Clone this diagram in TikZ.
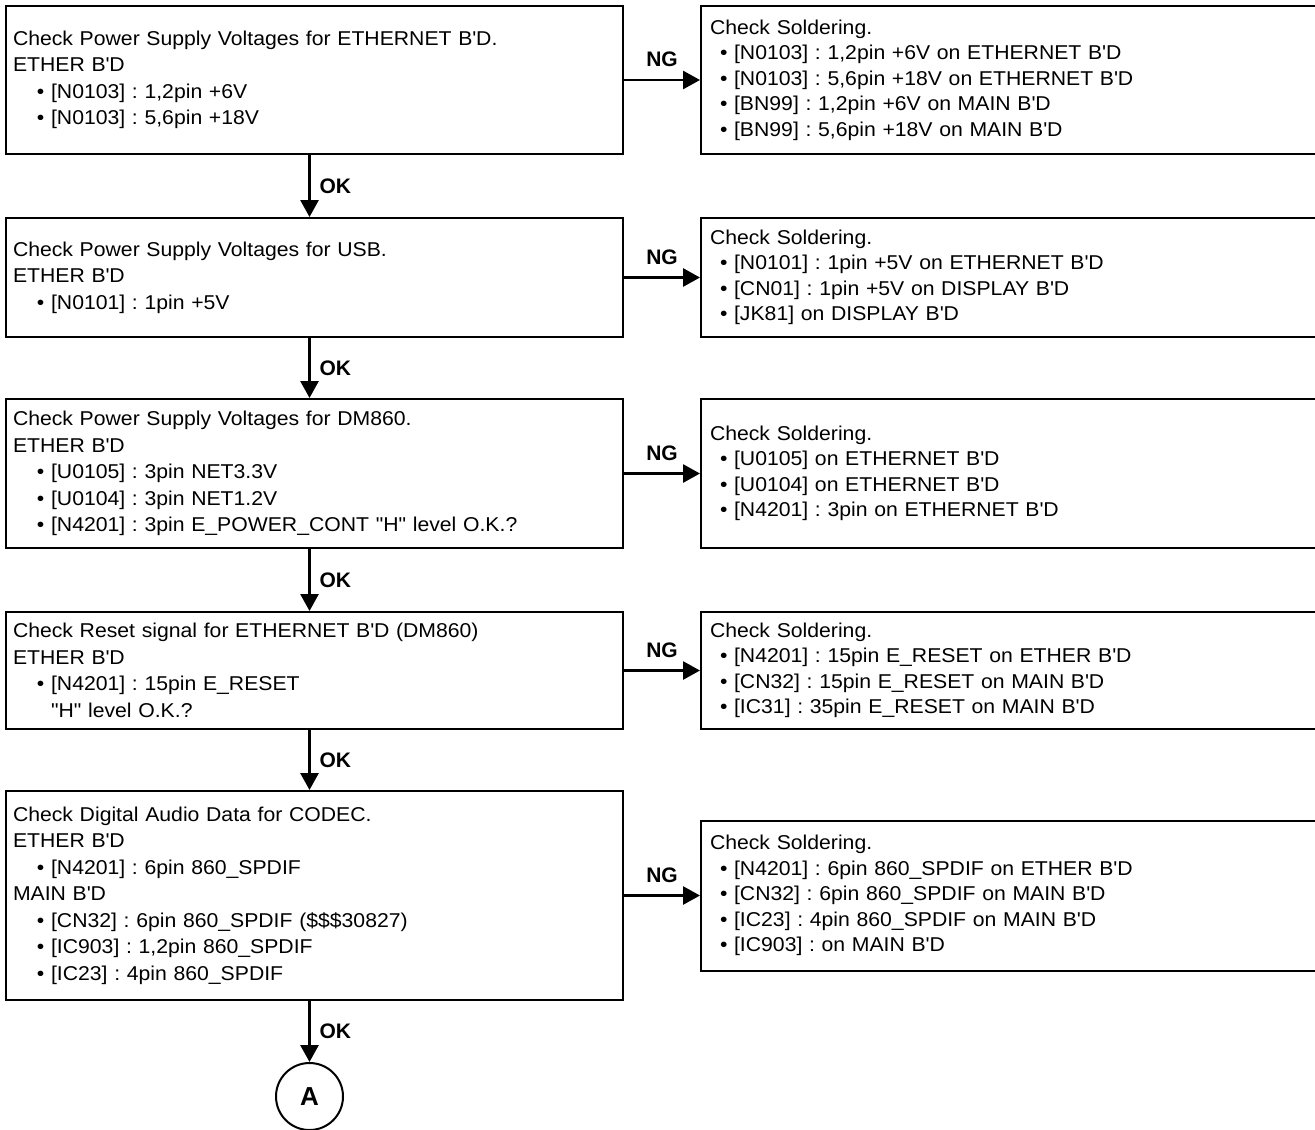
\documentclass[tikz,border=0pt]{standalone}
\usepackage{fontspec}
\setmainfont{Liberation Sans}
\newfontfamily\bodyfont{Liberation Sans}[FakeStretch=1.06]
\usetikzlibrary{arrows.meta,positioning}

\newcommand\BD{B\textquotesingle D}
\newcommand\itm{\hspace*{12pt}\textbullet\ }
\newcommand\ritm{\hspace*{5pt}\textbullet\ }
\newcommand\cont{\hspace*{12pt}\phantom{\textbullet\ }}
\frenchspacing

\begin{document}
\begin{tikzpicture}[
  x=0.5pt, y=-0.5pt,
  lbox/.style={draw, line width=1pt, text width=301.5pt, inner xsep=3.5pt, align=left, minimum height=#1,
    font=\bodyfont\fontsize{10}{13.25}\selectfont},
  rbox/.style={draw, line width=1pt, text width=330pt, inner xsep=4.5pt, align=left, minimum height=#1,
    font=\bodyfont\fontsize{10}{12.75}\selectfont},
  lbl/.style={font=\bfseries\fontsize{10.5}{12}\selectfont},
  arr/.style={-{Triangle[length=8.5pt,width=9pt]}, line width=1.4pt}
]
\useasboundingbox (0,0) rectangle (1315,1129);

% check steps
\node[lbox=74pt, anchor=north west] (pwr) at (5,5) {Check Power Supply Voltages for ETHERNET \BD.\\ETHER \BD\\\itm [N0103] : 1,2pin +6V\\\itm [N0103] : 5,6pin +18V};
\node[lbox=59.5pt, below=31pt of pwr] (usb) {Check Power Supply Voltages for USB.\\ETHER \BD\\\itm [N0101] : 1pin +5V};
\node[lbox=74.5pt, below=30pt of usb] (dm) {Check Power Supply Voltages for DM860.\\ETHER \BD\\\itm [U0105] : 3pin NET3.3V\\\itm [U0104] : 3pin NET1.2V\\\itm [N4201] : 3pin E\_POWER\_CONT "H" level O.K.?};
\node[lbox=58.5pt, below=31pt of dm] (rst) {Check Reset signal for ETHERNET \BD\ (DM860)\\ETHER \BD\\\itm [N4201] : 15pin E\_RESET\\\cont "H" level O.K.?};
\node[lbox=104.5pt, below=30pt of rst] (aud) {Check Digital Audio Data for CODEC.\\ETHER \BD\\\itm [N4201] : 6pin 860\_SPDIF\\MAIN \BD\\\itm [CN32] : 6pin 860\_SPDIF (\$\$\$30827)\\\itm [IC903] : 1,2pin 860\_SPDIF\\\itm [IC23] : 4pin 860\_SPDIF};
\node[circle, draw, line width=1pt, minimum size=33.5pt, inner sep=0pt, font=\bfseries\fontsize{13}{15}\selectfont, below=30.5pt of aud, xshift=-2.5pt] (A) {A};

% soldering checks
\node[rbox=74pt, right=38pt of pwr] (sol1) {Check Soldering.\\\ritm [N0103] : 1,2pin +6V on ETHERNET \BD\\\ritm [N0103] : 5,6pin +18V on ETHERNET \BD\\\ritm [BN99] : 1,2pin +6V on MAIN \BD\\\ritm [BN99] : 5,6pin +18V on MAIN \BD};
\node[rbox=59.5pt, right=38pt of usb] (sol2) {Check Soldering.\\\ritm [N0101] : 1pin +5V on ETHERNET \BD\\\ritm [CN01] : 1pin +5V on DISPLAY \BD\\\ritm [JK81] on DISPLAY \BD};
\node[rbox=74.5pt, right=38pt of dm] (sol3) {Check Soldering.\\\ritm [U0105] on ETHERNET \BD\\\ritm [U0104] on ETHERNET \BD\\\ritm [N4201] : 3pin on ETHERNET \BD};
\node[rbox=58.5pt, right=38pt of rst] (sol4) {Check Soldering.\\\ritm [N4201] : 15pin E\_RESET on ETHER \BD\\\ritm [CN32] : 15pin E\_RESET on MAIN \BD\\\ritm [IC31] : 35pin E\_RESET on MAIN \BD};
\node[rbox=75pt, right=38pt of aud] (sol5) {Check Soldering.\\\ritm [N4201] : 6pin 860\_SPDIF on ETHER \BD\\\ritm [CN32] : 6pin 860\_SPDIF on MAIN \BD\\\ritm [IC23] : 4pin 860\_SPDIF on MAIN \BD\\\ritm [IC903] : on MAIN \BD};

% OK path
\draw[arr] ([xshift=-2.5pt]pwr.south) -- node[right=1pt, lbl]{OK} ([xshift=-2.5pt]usb.north);
\draw[arr] ([xshift=-2.5pt]usb.south) -- node[right=1pt, lbl]{OK} ([xshift=-2.5pt]dm.north);
\draw[arr] ([xshift=-2.5pt]dm.south) -- node[right=1pt, lbl]{OK} ([xshift=-2.5pt]rst.north);
\draw[arr] ([xshift=-2.5pt]rst.south) -- node[right=1pt, lbl]{OK} ([xshift=-2.5pt]aud.north);
\draw[arr] ([xshift=-2.5pt]aud.south) -- node[right=1pt, lbl]{OK} (A);

% NG path
\draw[arr] (pwr) -- node[above=2.5pt, lbl]{NG} (sol1);
\draw[arr] (usb) -- node[above=2.5pt, lbl]{NG} (sol2);
\draw[arr] (dm) -- node[above=2.5pt, lbl]{NG} (sol3);
\draw[arr] (rst) -- node[above=2.5pt, lbl]{NG} (sol4);
\draw[arr] (aud) -- node[above=2.5pt, lbl]{NG} (sol5);
\end{tikzpicture}
\end{document}
